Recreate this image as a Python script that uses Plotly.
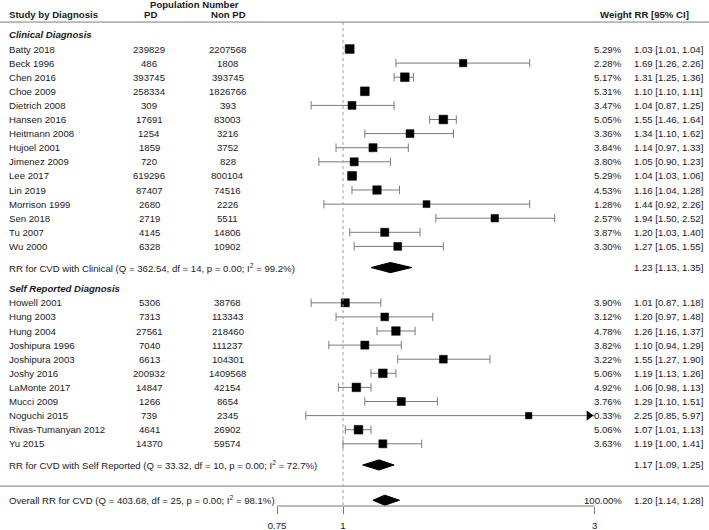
import math
import plotly.graph_objects as go

# ---- data ----
clin_study = ["Batty 2018", "Beck 1996", "Chen 2016", "Choe 2009", "Dietrich 2008",
              "Hansen 2016", "Heitmann 2008", "Hujoel 2001", "Jimenez 2009", "Lee 2017",
              "Lin 2019", "Morrison 1999", "Sen 2018", "Tu 2007", "Wu 2000"]
clin_pd = [239829, 486, 393745, 258334, 309, 17691, 1254, 1859, 720, 619296,
           87407, 2680, 2719, 4145, 6328]
clin_nonpd = [2207568, 1808, 393745, 1826766, 393, 83003, 3216, 3752, 828, 800104,
              74516, 2226, 5511, 14806, 10902]
clin_weight = [5.29, 2.28, 5.17, 5.31, 3.47, 5.05, 3.36, 3.84, 3.80, 5.29,
               4.53, 1.28, 2.57, 3.87, 3.30]
clin_rr = [1.03, 1.69, 1.31, 1.10, 1.04, 1.55, 1.34, 1.14, 1.05, 1.04,
           1.16, 1.44, 1.94, 1.20, 1.27]
clin_lo = [1.01, 1.26, 1.25, 1.10, 0.87, 1.46, 1.10, 0.97, 0.90, 1.03,
           1.04, 0.92, 1.50, 1.03, 1.05]
clin_hi = [1.04, 2.26, 1.36, 1.11, 1.25, 1.64, 1.62, 1.33, 1.23, 1.06,
           1.28, 2.26, 2.52, 1.40, 1.55]
clin_summary = [1.23, 1.13, 1.35]
clin_stats = "Q = 362.54, df = 14, p = 0.00; I<sup>2</sup> = 99.2%"

self_study = ["Howell 2001", "Hung 2003", "Hung 2004", "Joshipura 1996", "Joshipura 2003",
              "Joshy 2016", "LaMonte 2017", "Mucci 2009", "Noguchi 2015",
              "Rivas-Tumanyan 2012", "Yu 2015"]
self_pd = [5306, 7313, 27561, 7040, 6613, 200932, 14847, 1266, 739, 4641, 14370]
self_nonpd = [38768, 113343, 218460, 111237, 104301, 1409568, 42154, 8654, 2345, 26902, 59574]
self_weight = [3.90, 3.12, 4.78, 3.82, 3.22, 5.06, 4.92, 3.76, 0.33, 5.06, 3.63]
self_rr = [1.01, 1.20, 1.26, 1.10, 1.55, 1.19, 1.06, 1.29, 2.25, 1.07, 1.19]
self_lo = [0.87, 0.97, 1.16, 0.94, 1.27, 1.13, 0.98, 1.10, 0.85, 1.01, 1.00]
self_hi = [1.18, 1.48, 1.37, 1.29, 1.90, 1.26, 1.13, 1.51, 5.97, 1.13, 1.41]
self_summary = [1.17, 1.09, 1.25]
self_stats = "Q = 33.32, df = 10, p = 0.00; I<sup>2</sup> = 72.7%"

overall_summary = [1.20, 1.14, 1.28]
overall_stats = "Q = 403.68, df = 25, p = 0.00; I<sup>2</sup> = 98.1%"

x_ticks = [0.75, 1, 3]

# ---- layout helpers ----
W, H = 709, 530
FONT = "Liberation Sans, Arial, Helvetica, sans-serif"
FS = 9.6
TXT = "#1a1a1a"
GRAY = "#7a7a7a"
X_MIN, X_MAX = min(x_ticks), max(x_ticks)

# row positions (one unit = one study row)
clin_y = [i + 1 for i in range(len(clin_study))]
clin_sum_y = clin_y[-1] + 1.5
self_head_y = clin_sum_y + 1.5
self_y = [self_head_y + 1 + i for i in range(len(self_study))]
self_sum_y = self_y[-1] + 1.5
sep_y = self_sum_y + 1.5
overall_y = sep_y + 1
top_line_y = -0.91
head_y = -1.46
head2_y = -2.15
Y_TOP, Y_BOT = -2.475, 33.41


def px(p):
    return p / W


annotations = []


def txt(x, y, s, anchor="left"):
    annotations.append(dict(x=px(x), y=y, xref="paper", yref="y", text=s,
                            showarrow=False, xanchor=anchor, yanchor="middle",
                            font=dict(family=FONT, size=FS, color=TXT)))


def ci_text(rr, lo, hi):
    return f"{rr:.2f} [{lo:.2f}, {hi:.2f}]"


# headers
txt(194, head2_y, "<b>Population Number</b>", "center")
txt(7, head_y, "<b>Study by Diagnosis</b>")
txt(150, head_y, "<b>PD</b>", "center")
txt(228, head_y, "<b>Non PD</b>", "center")
txt(644, head_y, "<b>Weight RR [95% CI]</b>", "center")

txt(7, 0, "<b><i>Clinical Diagnosis</i></b>")
txt(7, self_head_y, "<b><i>Self Reported Diagnosis</i></b>")

all_study = clin_study + self_study
all_pd = clin_pd + self_pd
all_nonpd = clin_nonpd + self_nonpd
all_w = clin_weight + self_weight
all_rr = clin_rr + self_rr
all_lo = clin_lo + self_lo
all_hi = clin_hi + self_hi
all_y = clin_y + self_y

RR_X = 668  # centre of the RR [95% CI] column
for s, a, b, w, r, lo, hi, y in zip(all_study, all_pd, all_nonpd, all_w,
                                    all_rr, all_lo, all_hi, all_y):
    txt(7, y, s)
    txt(149, y, str(a), "center")
    txt(227.5, y, str(b), "center")
    txt(624, y, f"{w:.2f}%", "right")
    txt(RR_X, y, ci_text(r, lo, hi), "center")

txt(7, clin_sum_y, f"RR for CVD with Clinical ({clin_stats})")
txt(RR_X, clin_sum_y, ci_text(*clin_summary), "center")
txt(7, self_sum_y, f"RR for CVD with Self Reported ({self_stats})")
txt(RR_X, self_sum_y, ci_text(*self_summary), "center")
txt(7, overall_y, f"Overall RR for CVD ({overall_stats})")
txt(624, overall_y, "100.00%", "right")
txt(RR_X, overall_y, ci_text(*overall_summary), "center")

fig = go.Figure()

# confidence interval lines
lx, ly, cap_x, cap_y, arr_x, arr_y = [], [], [], [], [], []
for lo, hi, y in zip(all_lo, all_hi, all_y):
    lo_c = max(lo, X_MIN)
    hi_c = min(hi, X_MAX)
    lx += [lo_c, hi_c, None]
    ly += [y, y, None]
    if lo >= X_MIN:
        cap_x.append(lo)
        cap_y.append(y)
    if hi <= X_MAX:
        cap_x.append(hi)
        cap_y.append(y)
    else:
        arr_x.append(X_MAX / 1.025)
        arr_y.append(y)

fig.add_trace(go.Scatter(x=lx, y=ly, mode="lines",
                         line=dict(color=GRAY, width=1), hoverinfo="skip"))
fig.add_trace(go.Scatter(x=cap_x, y=cap_y, mode="markers",
                         marker=dict(symbol="line-ns", size=6,
                                     line=dict(color=GRAY, width=1)),
                         hoverinfo="skip"))
fig.add_trace(go.Scatter(x=arr_x, y=arr_y, mode="markers",
                         marker=dict(symbol="triangle-right", size=9, color="black"),
                         hoverinfo="skip"))

# point estimates, square size by weight
wmin, wmax = min(all_w), max(all_w)
sizes = [6.5 + 2.3 * (w - wmin) / (wmax - wmin) for w in all_w]
fig.add_trace(go.Scatter(x=all_rr, y=all_y, mode="markers",
                         marker=dict(symbol="square", size=sizes, color="#000000",
                                     opacity=1, line=dict(color="#000000", width=0.5)),
                         text=all_study, hoverinfo="text+x"))

# summary diamonds
hh = 0.36
for (est, lo, hi), y in [(clin_summary, clin_sum_y), (self_summary, self_sum_y),
                         (overall_summary, overall_y)]:
    fig.add_trace(go.Scatter(x=[lo, est, hi, est, lo], y=[y, y - hh, y, y + hh, y],
                             mode="lines", fill="toself", fillcolor="black",
                             line=dict(color="black", width=1), hoverinfo="skip"))

shapes = [
    dict(type="line", xref="paper", yref="y", x0=0, x1=1, y0=top_line_y, y1=top_line_y,
         line=dict(color=GRAY, width=1)),
    dict(type="line", xref="paper", yref="y", x0=0, x1=1, y0=sep_y, y1=sep_y,
         line=dict(color=GRAY, width=1)),
    dict(type="line", xref="x", yref="y", x0=1, x1=1, y0=top_line_y, y1=Y_BOT,
         line=dict(color="#9a9a9a", width=1, dash="dot")),
    dict(type="line", xref="x", yref="paper", x0=X_MIN, x1=X_MAX, y0=0, y1=0,
         line=dict(color=GRAY, width=1)),
]

px_per_dec = 229 * math.log(10)
fig.update_layout(
    width=W, height=H,
    margin=dict(l=0, r=0, t=0, b=24),
    paper_bgcolor="white", plot_bgcolor="white",
    showlegend=False,
    annotations=annotations,
    shapes=shapes,
    xaxis=dict(type="log", range=[-343 / px_per_dec, (W - 343) / px_per_dec],
               tickvals=x_ticks, ticktext=[str(t) for t in x_ticks],
               ticks="outside", ticklen=7, tickcolor=GRAY, tickwidth=1,
               showgrid=False, zeroline=False, showline=False,
               ticklabelstandoff=3,
               tickfont=dict(family=FONT, size=FS, color=TXT)),
    yaxis=dict(range=[Y_BOT, Y_TOP], showgrid=False, zeroline=False,
               showticklabels=False, ticks="", showline=False),
)

fig.write_html("out.html", config={"displayModeBar": False},
               post_script="document.body.style.margin='0';document.body.style.overflow='hidden';")
